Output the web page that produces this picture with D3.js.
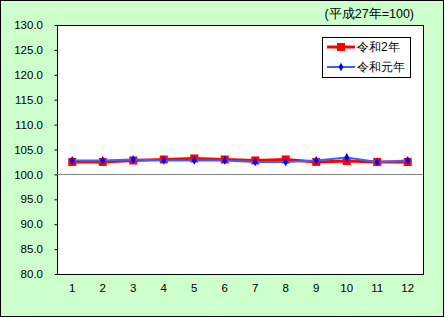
<!DOCTYPE html>
<html>
<head>
<meta charset="utf-8">
<script src="https://cdn.jsdelivr.net/npm/d3@7/dist/d3.min.js"></script>
<style>
  body { margin: 0; background: #fff; }
  text { font-family: "Liberation Sans", Arial, sans-serif; }
</style>
</head>
<body>
<svg id="chart" width="445" height="318"></svg>
<script>
// data
let months = ["1","2","3","4","5","6","7","8","9","10","11","12"];
let reiwa2 = [102.5, 102.5, 102.8, 103.0, 103.2, 103.0, 102.8, 103.0, 102.5, 102.7, 102.5, 102.5];
let reiwa1 = [102.8, 102.8, 103.0, 102.8, 102.8, 102.8, 102.5, 102.5, 102.8, 103.4, 102.5, 102.8];
let yTicks = [80, 85, 90, 95, 100, 105, 110, 115, 120, 125, 130];

let svg = d3.select("#chart");
let margin = {top: 25, left: 57, right: 22, bottom: 44};
let w = 445 - margin.left - margin.right;
let h = 318 - margin.top - margin.bottom;

// outer frame
svg.append("rect")
  .attr("x", 0.5).attr("y", 0.5)
  .attr("width", 443).attr("height", 316)
  .attr("fill", "#ccffcc").attr("stroke", "#000");

let g = svg.append("g").attr("transform", "translate(" + margin.left + "," + margin.top + ")");

g.append("rect")
  .attr("x", 0.5).attr("y", 0.5)
  .attr("width", w).attr("height", h)
  .attr("fill", "#fff").attr("stroke", "#000");

let x = d3.scaleBand().domain(months).range([0, w]);
let y = d3.scaleLinear().domain([80, 130]).range([h, 0]);

// y axis
let yAxis = g.append("g")
  .call(d3.axisLeft(y).tickValues(yTicks).tickFormat(d3.format(".1f")).tickSize(3).tickPadding(11));
yAxis.select(".domain").remove();
yAxis.selectAll("line").attr("stroke", "#000").attr("transform", "translate(0.5,0)");
yAxis.selectAll("text").attr("font-size", 11.5).attr("fill", "#000");

// x axis
let xAxis = g.append("g")
  .attr("transform", "translate(0," + h + ")")
  .call(d3.axisBottom(x).tickSize(0).tickPadding(10));
xAxis.select(".domain").remove();
xAxis.selectAll("text").attr("font-size", 11.5).attr("fill", "#000");

// base line at 100
g.append("line")
  .attr("x1", 0).attr("x2", w)
  .attr("y1", Math.round(y(100)) + 0.5).attr("y2", Math.round(y(100)) + 0.5)
  .attr("stroke", "#888").attr("stroke-width", 1);

let line = d3.line()
  .x((d, i) => x(months[i]) + x.bandwidth() / 2)
  .y(d => y(d));

// 令和2年 (red, squares)
g.append("path").datum(reiwa2)
  .attr("d", line).attr("fill", "none")
  .attr("stroke", "#ff0000").attr("stroke-width", 3);
g.selectAll(".sq").data(reiwa2).enter().append("rect")
  .attr("x", (d, i) => x(months[i]) + x.bandwidth() / 2 - 4)
  .attr("y", d => y(d) - 4)
  .attr("width", 8).attr("height", 8)
  .attr("fill", "#ff0000");

// 令和元年 (blue, diamonds)
g.append("path").datum(reiwa1)
  .attr("d", line).attr("fill", "none")
  .attr("stroke", "#3366ff").attr("stroke-width", 2);
g.selectAll(".dm").data(reiwa1).enter().append("path")
  .attr("d", d3.symbol().type(d3.symbolDiamond).size(22))
  .attr("transform", (d, i) => "translate(" + (x(months[i]) + x.bandwidth() / 2) + "," + y(d) + ")")
  .attr("fill", "#0000ff");

// unit note
svg.append("text")
  .attr("x", 414).attr("y", 18)
  .attr("text-anchor", "end")
  .attr("font-size", 12.5)
  .text("(平成27年=100)");

// legend
let lg = svg.append("g").attr("transform", "translate(322,37)");
lg.append("rect")
  .attr("x", 0.5).attr("y", 0.5)
  .attr("width", 88).attr("height", 40)
  .attr("fill", "#fff").attr("stroke", "#000");
lg.append("line").attr("x1", 5).attr("x2", 33).attr("y1", 10).attr("y2", 10)
  .attr("stroke", "#ff0000").attr("stroke-width", 3);
lg.append("rect").attr("x", 15).attr("y", 6).attr("width", 8).attr("height", 8).attr("fill", "#ff0000");
lg.append("text").attr("x", 35).attr("y", 14).attr("font-size", 12).text("令和2年");
lg.append("line").attr("x1", 5).attr("x2", 33).attr("y1", 30).attr("y2", 30)
  .attr("stroke", "#3366ff").attr("stroke-width", 2);
lg.append("path").attr("d", d3.symbol().type(d3.symbolDiamond).size(22))
  .attr("transform", "translate(19,30)").attr("fill", "#0000ff");
lg.append("text").attr("x", 35).attr("y", 34).attr("font-size", 12).text("令和元年");
</script>
</body>
</html>
